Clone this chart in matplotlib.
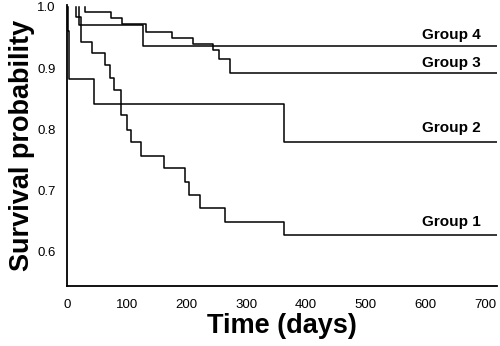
import matplotlib
matplotlib.use("Agg")
import matplotlib.pyplot as plt

plt.rcParams["font.family"] = ["Liberation Sans", "DejaVu Sans"]

# Kaplan-Meier steps (days, survival)
g1_days = [0, 15, 24, 42, 63, 72, 79, 90, 100, 107, 124, 163, 198, 205, 223, 265, 363, 720]
g1_surv = [1.0, 0.984, 0.943, 0.924, 0.905, 0.884, 0.865, 0.824, 0.799, 0.779,
           0.757, 0.737, 0.715, 0.693, 0.672, 0.649, 0.628, 0.628]

g2_days = [0, 1, 4, 46, 363, 720]
g2_surv = [1.0, 0.96, 0.882, 0.842, 0.780, 0.780]

g3_days = [0, 30, 73, 92, 133, 175, 211, 245, 254, 273, 720]
g3_surv = [1.0, 0.991, 0.982, 0.972, 0.959, 0.949, 0.940, 0.930, 0.915, 0.892, 0.892]

g4_days = [0, 20, 128, 720]
g4_surv = [1.0, 0.970, 0.936, 0.936]

group_names = ["Group 1", "Group 2", "Group 3", "Group 4"]
label_y = [0.649, 0.8025, 0.909, 0.954]

x_ticks = [0, 100, 200, 300, 400, 500, 600, 700]
y_ticks = [0.6, 0.7, 0.8, 0.9, 1.0]

fig = plt.figure(figsize=(5.0, 3.46), dpi=100)
ax = fig.add_axes([0.134, 0.1734, 0.86, 0.812])

for days, surv in [(g1_days, g1_surv), (g2_days, g2_surv),
                   (g3_days, g3_surv), (g4_days, g4_surv)]:
    # the original has no flat run along 1.0: each curve starts with its first drop
    xs = [days[1]] + days[1:]
    ys = [surv[0]] + surv[1:]
    ax.step(xs, ys, where="post", color="black", lw=1.1)

for name, y in zip(group_names, label_y):
    ax.text(692, y, name, ha="right", va="center",
            fontsize=11, fontweight="bold")

ax.set_xlim(0, 720)
ax.set_ylim(0.5445, 1.003)
ax.set_xticks(x_ticks)
ax.set_yticks(y_ticks)
ax.set_yticklabels([f"{v:.1f}" for v in y_ticks])
ax.tick_params(length=0, labelsize=9.5)
ax.tick_params(axis="x", pad=9)
ax.tick_params(axis="y", pad=8)

for side in ["top", "right"]:
    ax.spines[side].set_visible(False)
for side in ["left", "bottom"]:
    ax.spines[side].set_linewidth(1.3)

ax.set_xlabel("Time (days)", fontsize=19.5, fontweight="bold", labelpad=2)
ax.set_ylabel("Survival probability", fontsize=19.5, fontweight="bold", labelpad=2)

fig.savefig("out.png", dpi=100)
